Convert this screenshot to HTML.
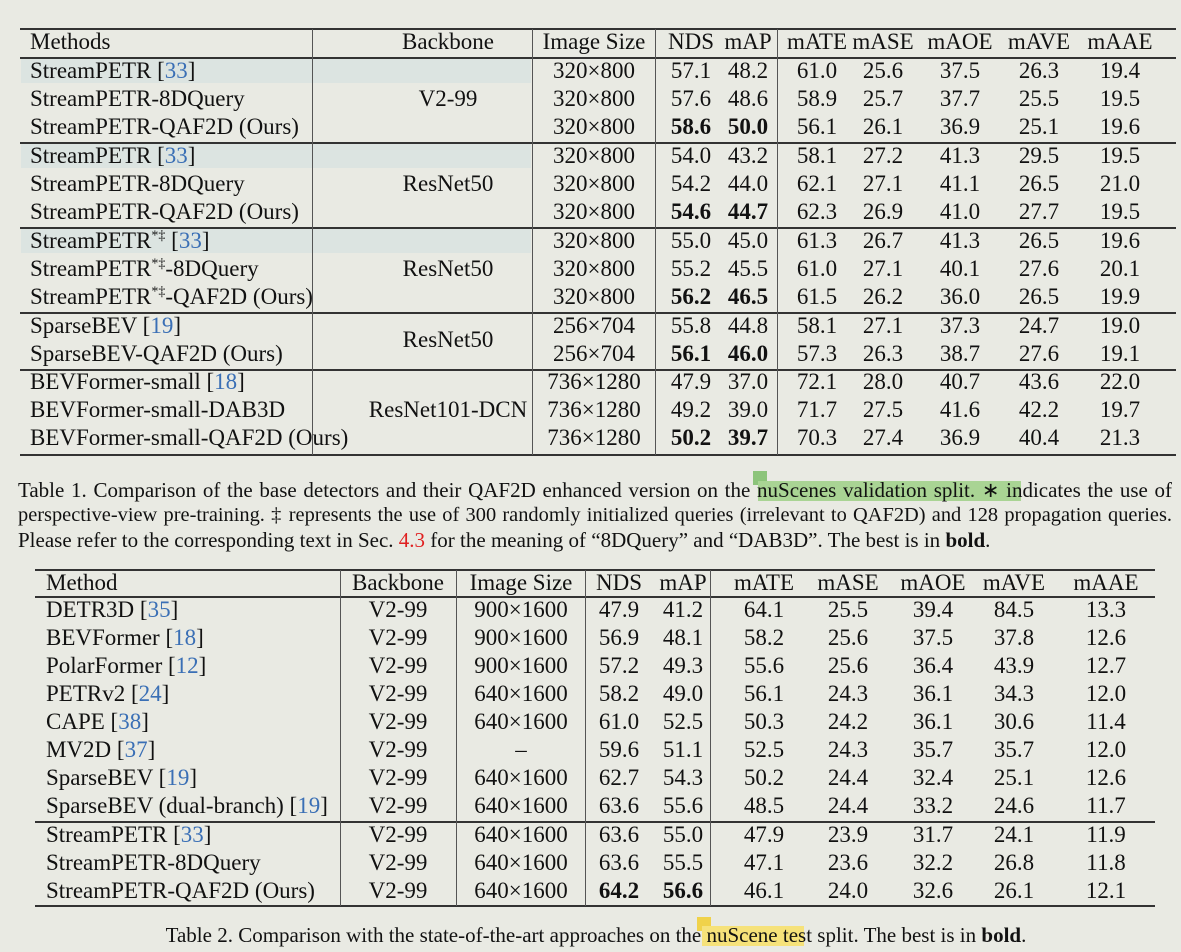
<!DOCTYPE html>
<html><head><meta charset="utf-8"><style>
body{margin:0;background:#e9eae3;}
#p{position:relative;width:1181px;height:952px;overflow:hidden;font-family:"Liberation Serif",serif;font-size:23px;color:#111;}
.r{position:absolute;left:0;width:1181px;height:26px;line-height:26px;}
.r>span{position:absolute;white-space:nowrap;}
.m{left:30px}
.bb{left:348px;width:200px;text-align:center}
.is{left:534px;width:120px;text-align:center}
.n{left:651px;width:80px;text-align:center}
.a{left:708px;width:80px;text-align:center}
.te{left:777px;width:80px;text-align:center}
.se{left:843px;width:80px;text-align:center}
.oe{left:920px;width:80px;text-align:center}
.ve{left:999px;width:80px;text-align:center}
.ae{left:1080px;width:80px;text-align:center}
.M{left:46px}
.BB{left:338px;width:120px;text-align:center}
.IS{left:461px;width:120px;text-align:center}
.N{left:579px;width:80px;text-align:center}
.A{left:643px;width:80px;text-align:center}
.TE{left:724px;width:80px;text-align:center}
.SE{left:808px;width:80px;text-align:center}
.OE{left:893px;width:80px;text-align:center}
.VE{left:974px;width:80px;text-align:center}
.AE{left:1066px;width:80px;text-align:center}
.h{position:absolute;height:1.5px;background:#333}
.v{position:absolute;width:1.2px;background:#555}
.hl{position:absolute;left:21px;width:510px;height:24px;background:#dce4e1}
.c{color:#3a6fb5}
b{font-weight:bold}
sup{font-size:14px;line-height:0}
.cap{position:absolute;font-size:21px;white-space:nowrap;line-height:24px}
.j{white-space:normal;width:1154px;text-align:justify;text-align-last:justify;height:24px;overflow:hidden}
</style></head><body><div id="p">
<div class="hl" style="top:59px"></div>
<div class="hl" style="top:144px"></div>
<div class="hl" style="top:229px"></div>

<div class="h" style="left:20px;width:1156px;top:28px"></div>
<div class="h" style="left:20px;width:1156px;top:57px"></div>
<div class="h" style="left:20px;width:1156px;top:142px"></div>
<div class="h" style="left:20px;width:1156px;top:227px"></div>
<div class="h" style="left:20px;width:1156px;top:312px"></div>
<div class="h" style="left:20px;width:1156px;top:369px"></div>
<div class="h" style="left:20px;width:1156px;top:454px"></div>
<div class="v" style="left:312px;top:29px;height:426px"></div>
<div class="v" style="left:532px;top:29px;height:426px"></div>
<div class="v" style="left:655px;top:29px;height:426px"></div>
<div class="v" style="left:777px;top:29px;height:426px"></div>

<div class="r" style="top:29px"><span class="m">Methods</span><span class="bb">Backbone</span><span class="is">Image Size</span><span class="n">NDS</span><span class="a">mAP</span><span class="te">mATE</span><span class="se">mASE</span><span class="oe">mAOE</span><span class="ve">mAVE</span><span class="ae">mAAE</span></div>
<div class="r" style="top:58px"><span class="m">StreamPETR [<span class="c">33</span>]</span><span class="is">320×800</span><span class="n">57.1</span><span class="a">48.2</span><span class="te">61.0</span><span class="se">25.6</span><span class="oe">37.5</span><span class="ve">26.3</span><span class="ae">19.4</span></div>
<div class="r" style="top:86px"><span class="m">StreamPETR-8DQuery</span><span class="bb">V2-99</span><span class="is">320×800</span><span class="n">57.6</span><span class="a">48.6</span><span class="te">58.9</span><span class="se">25.7</span><span class="oe">37.7</span><span class="ve">25.5</span><span class="ae">19.5</span></div>
<div class="r" style="top:114px"><span class="m">StreamPETR-QAF2D (Ours)</span><span class="is">320×800</span><span class="n"><b>58.6</b></span><span class="a"><b>50.0</b></span><span class="te">56.1</span><span class="se">26.1</span><span class="oe">36.9</span><span class="ve">25.1</span><span class="ae">19.6</span></div>
<div class="r" style="top:143px"><span class="m">StreamPETR [<span class="c">33</span>]</span><span class="is">320×800</span><span class="n">54.0</span><span class="a">43.2</span><span class="te">58.1</span><span class="se">27.2</span><span class="oe">41.3</span><span class="ve">29.5</span><span class="ae">19.5</span></div>
<div class="r" style="top:171px"><span class="m">StreamPETR-8DQuery</span><span class="bb">ResNet50</span><span class="is">320×800</span><span class="n">54.2</span><span class="a">44.0</span><span class="te">62.1</span><span class="se">27.1</span><span class="oe">41.1</span><span class="ve">26.5</span><span class="ae">21.0</span></div>
<div class="r" style="top:199px"><span class="m">StreamPETR-QAF2D (Ours)</span><span class="is">320×800</span><span class="n"><b>54.6</b></span><span class="a"><b>44.7</b></span><span class="te">62.3</span><span class="se">26.9</span><span class="oe">41.0</span><span class="ve">27.7</span><span class="ae">19.5</span></div>
<div class="r" style="top:228px"><span class="m">StreamPETR<sup>*‡</sup> [<span class="c">33</span>]</span><span class="is">320×800</span><span class="n">55.0</span><span class="a">45.0</span><span class="te">61.3</span><span class="se">26.7</span><span class="oe">41.3</span><span class="ve">26.5</span><span class="ae">19.6</span></div>
<div class="r" style="top:256px"><span class="m">StreamPETR<sup>*‡</sup>-8DQuery</span><span class="bb">ResNet50</span><span class="is">320×800</span><span class="n">55.2</span><span class="a">45.5</span><span class="te">61.0</span><span class="se">27.1</span><span class="oe">40.1</span><span class="ve">27.6</span><span class="ae">20.1</span></div>
<div class="r" style="top:284px"><span class="m">StreamPETR<sup>*‡</sup>-QAF2D (Ours)</span><span class="is">320×800</span><span class="n"><b>56.2</b></span><span class="a"><b>46.5</b></span><span class="te">61.5</span><span class="se">26.2</span><span class="oe">36.0</span><span class="ve">26.5</span><span class="ae">19.9</span></div>
<div class="r" style="top:313px"><span class="m">SparseBEV [<span class="c">19</span>]</span><span class="is">256×704</span><span class="n">55.8</span><span class="a">44.8</span><span class="te">58.1</span><span class="se">27.1</span><span class="oe">37.3</span><span class="ve">24.7</span><span class="ae">19.0</span></div>
<div class="r" style="top:327px"><span class="bb">ResNet50</span></div>
<div class="r" style="top:341px"><span class="m">SparseBEV-QAF2D (Ours)</span><span class="is">256×704</span><span class="n"><b>56.1</b></span><span class="a"><b>46.0</b></span><span class="te">57.3</span><span class="se">26.3</span><span class="oe">38.7</span><span class="ve">27.6</span><span class="ae">19.1</span></div>
<div class="r" style="top:369px"><span class="m">BEVFormer-small [<span class="c">18</span>]</span><span class="is">736×1280</span><span class="n">47.9</span><span class="a">37.0</span><span class="te">72.1</span><span class="se">28.0</span><span class="oe">40.7</span><span class="ve">43.6</span><span class="ae">22.0</span></div>
<div class="r" style="top:397px"><span class="m">BEVFormer-small-DAB3D</span><span class="bb">ResNet101-DCN</span><span class="is">736×1280</span><span class="n">49.2</span><span class="a">39.0</span><span class="te">71.7</span><span class="se">27.5</span><span class="oe">41.6</span><span class="ve">42.2</span><span class="ae">19.7</span></div>
<div class="r" style="top:425px"><span class="m">BEVFormer-small-QAF2D (Ours)</span><span class="is">736×1280</span><span class="n"><b>50.2</b></span><span class="a"><b>39.7</b></span><span class="te">70.3</span><span class="se">27.4</span><span class="oe">36.9</span><span class="ve">40.4</span><span class="ae">21.3</span></div>

<div style="position:absolute;left:753px;top:471px;width:14px;height:14px;background:#8cc47a"></div>
<div style="position:absolute;left:758px;top:481px;width:263px;height:20px;background:#a9d494"></div>
<div class="cap j" style="left:18px;top:478px">Table 1. Comparison of the base detectors and their QAF2D enhanced version on the nuScenes validation split. ∗ indicates the use of</div>
<div class="cap j" style="left:18px;top:503px;font-size:20.4px">perspective-view pre-training. ‡ represents the use of 300 randomly initialized queries (irrelevant to QAF2D) and 128 propagation queries.</div>
<div class="cap" style="left:18px;top:528px">Please refer to the corresponding text in Sec. <span style="color:#e02020">4.3</span> for the meaning of “8DQuery” and “DAB3D”. The best is in <b>bold</b>.</div>

<div class="h" style="left:35px;width:1120px;top:569px"></div>
<div class="h" style="left:35px;width:1120px;top:596px"></div>
<div class="h" style="left:35px;width:1120px;top:821px"></div>
<div class="h" style="left:35px;width:1120px;top:905px"></div>
<div class="v" style="left:340px;top:570px;height:336px"></div>
<div class="v" style="left:456px;top:570px;height:336px"></div>
<div class="v" style="left:585px;top:570px;height:336px"></div>
<div class="v" style="left:710px;top:570px;height:336px"></div>

<div class="r" style="top:570px"><span class="M">Method</span><span class="BB">Backbone</span><span class="IS">Image Size</span><span class="N">NDS</span><span class="A">mAP</span><span class="TE">mATE</span><span class="SE">mASE</span><span class="OE">mAOE</span><span class="VE">mAVE</span><span class="AE">mAAE</span></div>
<div class="r" style="top:597px"><span class="M">DETR3D [<span class="c">35</span>]</span><span class="BB">V2-99</span><span class="IS">900×1600</span><span class="N">47.9</span><span class="A">41.2</span><span class="TE">64.1</span><span class="SE">25.5</span><span class="OE">39.4</span><span class="VE">84.5</span><span class="AE">13.3</span></div>
<div class="r" style="top:625px"><span class="M">BEVFormer [<span class="c">18</span>]</span><span class="BB">V2-99</span><span class="IS">900×1600</span><span class="N">56.9</span><span class="A">48.1</span><span class="TE">58.2</span><span class="SE">25.6</span><span class="OE">37.5</span><span class="VE">37.8</span><span class="AE">12.6</span></div>
<div class="r" style="top:653px"><span class="M">PolarFormer [<span class="c">12</span>]</span><span class="BB">V2-99</span><span class="IS">900×1600</span><span class="N">57.2</span><span class="A">49.3</span><span class="TE">55.6</span><span class="SE">25.6</span><span class="OE">36.4</span><span class="VE">43.9</span><span class="AE">12.7</span></div>
<div class="r" style="top:681px"><span class="M">PETRv2 [<span class="c">24</span>]</span><span class="BB">V2-99</span><span class="IS">640×1600</span><span class="N">58.2</span><span class="A">49.0</span><span class="TE">56.1</span><span class="SE">24.3</span><span class="OE">36.1</span><span class="VE">34.3</span><span class="AE">12.0</span></div>
<div class="r" style="top:709px"><span class="M">CAPE [<span class="c">38</span>]</span><span class="BB">V2-99</span><span class="IS">640×1600</span><span class="N">61.0</span><span class="A">52.5</span><span class="TE">50.3</span><span class="SE">24.2</span><span class="OE">36.1</span><span class="VE">30.6</span><span class="AE">11.4</span></div>
<div class="r" style="top:737px"><span class="M">MV2D [<span class="c">37</span>]</span><span class="BB">V2-99</span><span class="IS">–</span><span class="N">59.6</span><span class="A">51.1</span><span class="TE">52.5</span><span class="SE">24.3</span><span class="OE">35.7</span><span class="VE">35.7</span><span class="AE">12.0</span></div>
<div class="r" style="top:765px"><span class="M">SparseBEV [<span class="c">19</span>]</span><span class="BB">V2-99</span><span class="IS">640×1600</span><span class="N">62.7</span><span class="A">54.3</span><span class="TE">50.2</span><span class="SE">24.4</span><span class="OE">32.4</span><span class="VE">25.1</span><span class="AE">12.6</span></div>
<div class="r" style="top:793px"><span class="M">SparseBEV (dual-branch) [<span class="c">19</span>]</span><span class="BB">V2-99</span><span class="IS">640×1600</span><span class="N">63.6</span><span class="A">55.6</span><span class="TE">48.5</span><span class="SE">24.4</span><span class="OE">33.2</span><span class="VE">24.6</span><span class="AE">11.7</span></div>
<div class="r" style="top:822px"><span class="M">StreamPETR [<span class="c">33</span>]</span><span class="BB">V2-99</span><span class="IS">640×1600</span><span class="N">63.6</span><span class="A">55.0</span><span class="TE">47.9</span><span class="SE">23.9</span><span class="OE">31.7</span><span class="VE">24.1</span><span class="AE">11.9</span></div>
<div class="r" style="top:850px"><span class="M">StreamPETR-8DQuery</span><span class="BB">V2-99</span><span class="IS">640×1600</span><span class="N">63.6</span><span class="A">55.5</span><span class="TE">47.1</span><span class="SE">23.6</span><span class="OE">32.2</span><span class="VE">26.8</span><span class="AE">11.8</span></div>
<div class="r" style="top:878px"><span class="M">StreamPETR-QAF2D (Ours)</span><span class="BB">V2-99</span><span class="IS">640×1600</span><span class="N"><b>64.2</b></span><span class="A"><b>56.6</b></span><span class="TE">46.1</span><span class="SE">24.0</span><span class="OE">32.6</span><span class="VE">26.1</span><span class="AE">12.1</span></div>

<div style="position:absolute;left:697px;top:917px;width:14px;height:14px;background:#f0d24a"></div>
<div style="position:absolute;left:702px;top:926px;width:102px;height:20px;background:#f6e27a"></div>
<div class="cap" style="left:0;width:1192px;text-align:center;top:923px">Table 2. Comparison with the state-of-the-art approaches on the nuScene test split. The best is in <b>bold</b>.</div>
</div></body></html>
